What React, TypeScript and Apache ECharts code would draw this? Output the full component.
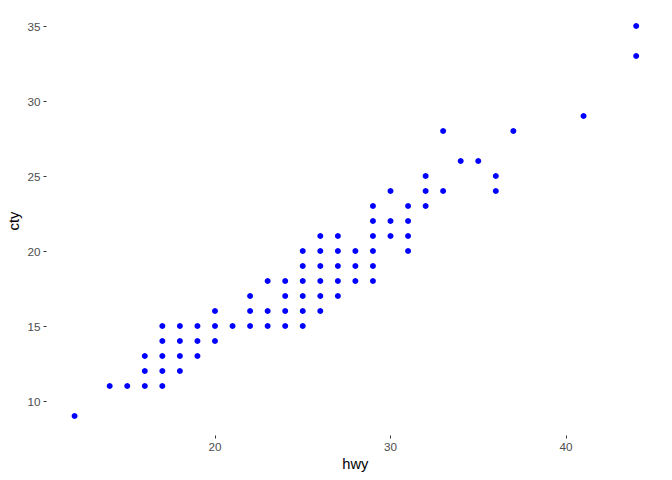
import React, { useEffect, useRef } from "react";
import * as echarts from "echarts";

const hwy = [
  12, 14, 15,
  16, 16, 16,
  17, 17, 17, 17, 17,
  18, 18, 18, 18,
  19, 19, 19,
  20, 20, 20,
  21,
  22, 22, 22,
  23, 23, 23,
  24, 24, 24, 24,
  25, 25, 25, 25, 25, 25,
  26, 26, 26, 26, 26, 26,
  27, 27, 27, 27, 27,
  28, 28, 28,
  29, 29, 29, 29, 29, 29,
  30, 30, 30,
  31, 31, 31, 31,
  32, 32, 32,
  33, 33,
  34, 35,
  36, 36,
  37, 41,
  44, 44,
];
const cty = [
  9, 11, 11,
  11, 12, 13,
  11, 12, 13, 14, 15,
  12, 13, 14, 15,
  13, 14, 15,
  14, 15, 16,
  15,
  15, 16, 17,
  15, 16, 18,
  15, 16, 17, 18,
  15, 16, 17, 18, 19, 20,
  16, 17, 18, 19, 20, 21,
  17, 18, 19, 20, 21,
  18, 19, 20,
  18, 19, 20, 21, 22, 23,
  21, 22, 24,
  20, 21, 22, 23,
  23, 24, 25,
  24, 28,
  26, 26,
  24, 25,
  28, 29,
  33, 35,
];
const xTicks = [20, 30, 40];
const yTicks = [10, 15, 20, 25, 30, 35];

export default function App() {
  const ref = useRef<HTMLDivElement>(null);
  useEffect(() => {
    const chart = echarts.init(ref.current!, null, { renderer: "svg" });
    const data = hwy.map((h, i) => [h, cty[i]]);
    const font = "'Liberation Sans', Arial, sans-serif";
    const labelStyle = { color: "#4D4D4D", fontSize: 11.7, fontFamily: font };
    chart.setOption({
      animation: false,
      backgroundColor: "#ffffff",
      grid: {
        left: 46.5,
        right: 7.7,
        top: 6.5,
        bottom: 44.5,
        containLabel: false,
        outerBoundsMode: "none",
      },
      xAxis: {
        type: "value",
        min: 10.4,
        max: 45.6,
        name: "hwy",
        nameLocation: "middle",
        nameGap: 21,
        nameMoveOverlap: false,
        nameTextStyle: { color: "#000", fontSize: 14.7, fontFamily: font },
        axisLine: { show: false },
        splitLine: { show: false },
        axisTick: { show: true, length: 3, lineStyle: { color: "#333333" }, customValues: xTicks },
        axisLabel: { ...labelStyle, margin: 5, customValues: xTicks },
      },
      yAxis: {
        type: "value",
        min: 7.7,
        max: 36.3,
        name: "cty",
        nameLocation: "middle",
        nameGap: 25,
        nameRotate: 90,
        nameMoveOverlap: false,
        nameTextStyle: { color: "#000", fontSize: 14.7, fontFamily: font },
        axisLine: { show: false },
        splitLine: { show: false },
        axisTick: { show: true, length: 3, lineStyle: { color: "#333333" }, customValues: yTicks },
        axisLabel: { ...labelStyle, margin: 6, customValues: yTicks },
      },
      series: [
        {
          type: "scatter",
          data,
          symbol: "circle",
          symbolSize: 6,
          itemStyle: { color: "#0000FF", opacity: 1 },
        },
      ],
    });
    return () => chart.dispose();
  }, []);
  return <div ref={ref} style={{ width: 672, height: 480, position: "absolute", left: 0, top: 0 }} />;
}
